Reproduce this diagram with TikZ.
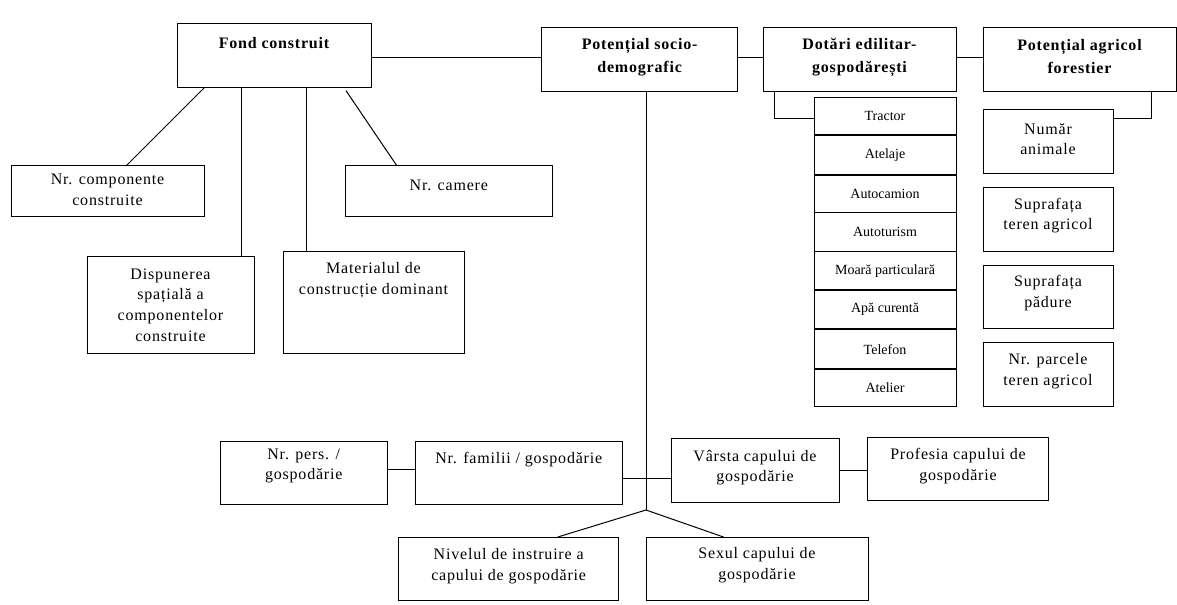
\documentclass[tikz,border=0pt]{standalone}
\usepackage{fontspec}
\setmainfont[LetterSpace=5]{Liberation Serif}
\newfontfamily\listfont{Liberation Serif}
\usetikzlibrary{calc}
\begin{document}
\begin{tikzpicture}[x=0.75pt,y=-0.75pt,
  box/.style={draw, line width=0.75pt, inner sep=0pt, outer sep=0pt},
  conn/.style={draw, line width=0.75pt},
  thick sep/.style={draw, line width=1.5pt},
  txt/.style={align=center, inner sep=0pt, font=\fontsize{12}{15.5}\selectfont},
  hdr/.style={align=center, inner sep=0pt, font=\fontsize{12}{17.25}\selectfont\bfseries},
  row/.style={box, minimum width=106.5pt, font=\fontsize{10.5}{12}\listfont}]
\fill[white] (0,0) rectangle (1177,605);
\useasboundingbox (0,0) rectangle (1177,605);

% top row
\node[box, minimum width=145.5pt, minimum height=48pt] (fond) at (274,56) {};
\node[hdr] (fond-t) at (274,43) {Fond construit};
\node[box, minimum width=147pt, minimum height=48pt] (pot) at (639.6,60) {};
\node[hdr] (pot-t) at (639.6,57) {Potențial socio-\\demografic};
\node[box, minimum width=144.75pt, minimum height=48pt] (dot) at (859.5,60) {};
\node[hdr] (dot-t) at (859.5,57) {Dotări edilitar-\\gospodărești};
\node[box, minimum width=144.75pt, minimum height=48pt] (agr) at (1079.5,60) {};
\node[hdr] (agr-t) at (1079.5,57) {Potențial agricol\\forestier};

% fond children
\node[box, minimum width=144.75pt, minimum height=38.25pt] (nrcomp) at (107.5,191.5) {};
\node[txt] (nrcomp-t) at (107.5,190) {Nr. componente\\construite};
\node[box, minimum width=125.25pt, minimum height=72.75pt] (disp) at (170.5,305.5) {};
\node[txt] (disp-t) at (170.5,305) {Dispunerea\\spațială a\\componentelor\\construite};
\node[box, minimum width=135.75pt, minimum height=76.5pt] (mat) at (373.5,303) {};
\node[txt] (mat-t) at (373.5,280) {Materialul de\\construcție dominant};
\node[box, minimum width=154.8pt, minimum height=38.25pt] (nrcam) at (448.8,191.5) {};
\node[txt] (nrcam-t) at (448.8,185) {Nr. camere};

% list of dotari
\node[row, minimum height=28.5pt] (r1) at (885,116.3) {Tractor};
\node[row, minimum height=29.78pt] (r2) at (885,155.15) {Atelaje};
\node[row, minimum height=28.28pt] (r3) at (885,193.85) {Autocamion};
\node[row, minimum height=29.25pt] (r4) at (885,232.2) {Autoturism};
\node[row, minimum height=28.73pt] (r5) at (885,270.85) {Moară particulară};
\node[row, minimum height=29.48pt] (r6) at (885,309.65) {Apă curentă};
\node[row, minimum height=29.78pt] (r7) at (885,349.15) {Telefon};
\node[row, minimum height=28.5pt] (r8) at (885,388) {Atelier};
\draw[thick sep] (r2.north west) -- (r2.north east);
\draw[thick sep] (r3.north west) -- (r3.north east);
\draw[thick sep] (r6.north west) -- (r6.north east);
\draw[thick sep] (r7.north west) -- (r7.north east);

% agricol children
\node[box, minimum width=97.5pt, minimum height=48.5pt] (num) at (1048,141.65) {};
\node[txt] (num-t) at (1048,139) {Număr\\animale};
\node[box, minimum width=97.5pt, minimum height=48.5pt] (supt) at (1048,219.65) {};
\node[txt] (supt-t) at (1048,215.5) {Suprafața\\teren agricol};
\node[box, minimum width=97.5pt, minimum height=47.55pt] (supp) at (1048,297) {};
\node[txt] (supp-t) at (1048,293) {Suprafața\\pădure};
\node[box, minimum width=97.5pt, minimum height=48.5pt] (parc) at (1048,374.65) {};
\node[txt] (parc-t) at (1048,371) {Nr. parcele\\teren agricol};

% bottom
\node[box, minimum width=125.6pt, minimum height=47.25pt] (pers) at (303.75,472.5) {};
\node[txt] (pers-t) at (303.75,466) {Nr. pers. /\\gospodărie};
\node[box, minimum width=154.9pt, minimum height=47.25pt] (fam) at (518.75,472.5) {};
\node[txt] (fam-t) at (518.75,460) {Nr. familii / gospodărie};
\node[box, minimum width=126pt, minimum height=47.5pt] (varsta) at (755,470.65) {};
\node[txt] (varsta-t) at (755,467.5) {Vârsta capului de\\gospodărie};
\node[box, minimum width=135.45pt, minimum height=47.55pt] (prof) at (958,469) {};
\node[txt] (prof-t) at (958,466) {Profesia capului de\\gospodărie};
\node[box, minimum width=164.5pt, minimum height=47.25pt] (niv) at (508.65,568.5) {};
\node[txt] (niv-t) at (508.65,566) {Nivelul de instruire a\\capului de gospodărie};
\node[box, minimum width=166.5pt, minimum height=47.25pt] (sex) at (757,568.5) {};
\node[txt] (sex-t) at (757,565) {Sexul capului de\\gospodărie};

% connectors top row
\coordinate (c1) at ([yshift=-1.5pt]fond.east);
\draw[conn] (c1) -- (c1 -| pot.west);
\draw[conn] ([yshift=1.5pt]pot.east) -- ([yshift=1.5pt]dot.west);
\draw[conn] ([yshift=1.5pt]dot.east) -- ([yshift=1.5pt]agr.west);

% fond connectors
\draw[conn] ([xshift=20.25pt]fond.south west) -- ([xshift=86.25pt]nrcomp.north west);
\coordinate (c2) at ([xshift=48.5pt]fond.south west);
\draw[conn] (c2) -- (c2 |- disp.north);
\coordinate (c3) at ([xshift=96.75pt]fond.south west);
\draw[conn] (c3) -- (c3 |- mat.north);
\draw[conn] ([xshift=126.75pt,yshift=-2pt]fond.south west) -- ([xshift=38.55pt]nrcam.north west);

% dotari bracket
\draw[conn] ([xshift=8.8pt]dot.south west) |- ([yshift=-1.5pt]r1.west);

% agricol bracket
\coordinate (a1) at ([xshift=-18.75pt]agr.south east);
\draw[conn] (a1) |- ([yshift=17.5pt]num.east);

% socio-demografic tree
\coordinate (jn) at (646,510);
\coordinate (p1) at ([xshift=4.8pt]pot.south);
\draw[conn] (p1) -- (p1 |- jn);
\draw[conn] ([yshift=1.9pt]pers.east) -- ([yshift=1.9pt]pers.east -| fam.west);
\coordinate (h1) at ([yshift=-4.35pt]fam.east);
\draw[conn] (h1) -- (h1 -| varsta.west);
\draw[conn] (varsta.east) -- (varsta.east -| prof.west);
\draw[conn] (jn) -- ([xshift=119.1pt]niv.north west);
\draw[conn] (jn) -- ([xshift=58.1pt]sex.north west);
\end{tikzpicture}
\end{document}
